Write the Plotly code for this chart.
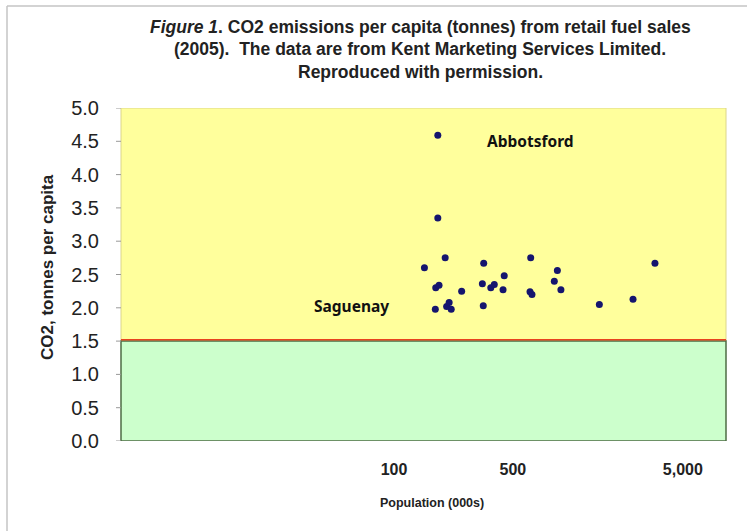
import math
import plotly.graph_objects as go

# Population (000s) and CO2 tonnes per capita
population = [151, 200, 176, 184, 175, 204, 211, 217, 250, 337, 331, 335,
              371, 389, 438, 445, 637, 631, 648, 914, 877, 959, 1614, 2547,
              3428, 181, 181]
co2_per_capita = [2.60, 2.75, 2.30, 2.34, 1.98, 2.02, 2.08, 1.98, 2.25, 2.67,
                  2.36, 2.03, 2.30, 2.35, 2.27, 2.48, 2.75, 2.24, 2.20, 2.56,
                  2.40, 2.27, 2.05, 2.13, 2.67, 4.59, 3.35]

x_tickvals = [100, 500, 5000]
x_ticktext = ["100", "500", "5,000"]
y_tickvals = [0, 0.5, 1.0, 1.5, 2.0, 2.5, 3.0, 3.5, 4.0, 4.5, 5.0]

threshold = 1.5
red_line_level = 1.52

labels = [("Abbotsford", 343, 4.51, "left"), ("Saguenay", 96, 2.03, "right")]

title_lines = [
    "<i>Figure 1</i>. CO2 emissions per capita (tonnes) from retail fuel sales",
    "(2005).  The data are from Kent Marketing Services Limited.",
    "Reproduced with permission.",
]

W, H = 747, 531
L, R, T, B = 121, 21, 108, 90
pw, ph = W - L - R, H - T - B

def px_x(p):
    return (p - L) / pw

def px_y(p):
    return (H - B - p) / ph

fig = go.Figure()
fig.add_trace(go.Scatter(
    x=population, y=co2_per_capita, mode="markers",
    marker=dict(size=7, color="#15156e"),
    showlegend=False, hoverinfo="x+y",
))

shapes = [
    dict(type="rect", xref="paper", yref="y", x0=0, x1=1, y0=threshold, y1=5,
         fillcolor="#ffff9c", line=dict(color="#dcd68a", width=1), layer="below"),
    dict(type="rect", xref="paper", yref="y", x0=0, x1=1, y0=0, y1=threshold,
         fillcolor="#ccffcc", line=dict(color="#4e6e44", width=1.5), layer="below"),
    dict(type="line", xref="paper", yref="y", x0=0, x1=1, y0=red_line_level, y1=red_line_level,
         line=dict(color="#e8431e", width=1.5), layer="below"),
    # outer frame (top and left edges)
    dict(type="line", xref="paper", yref="paper", x0=px_x(7), x1=px_x(W + 5),
         y0=px_y(6), y1=px_y(6), line=dict(color="#c4c4c4", width=1.5)),
    dict(type="line", xref="paper", yref="paper", x0=px_x(7), x1=px_x(7),
         y0=px_y(6), y1=px_y(H + 5), line=dict(color="#c4c4c4", width=1.5)),
]
# short visible tick marks at each y tick value
for v in y_tickvals:
    shapes.append(dict(type="line", xref="paper", yref="y", x0=px_x(116), x1=px_x(121),
                       y0=v, y1=v, line=dict(color="#999999", width=1)))

annotations = []
for line, ypix in zip(title_lines, [27.3, 49.3, 71.7]):
    annotations.append(dict(
        text="<b>" + line + "</b>", xref="paper", yref="paper",
        x=px_x(420), y=px_y(ypix), xanchor="center", yanchor="middle",
        showarrow=False, font=dict(family="Liberation Sans", size=17.5, color="#222222"),
    ))
for name, lx, ly, anchor in labels:
    annotations.append(dict(
        text="<b>" + name + "</b>", xref="x", yref="y", x=math.log10(lx), y=ly,
        xanchor=anchor, yanchor="middle", showarrow=False,
        font=dict(family="Noto Sans", size=15.5, color="#111111"),
    ))
annotations.append(dict(
    text="<b>Population (000s)</b>", xref="paper", yref="paper",
    x=px_x(431.5), y=px_y(503), xanchor="center", yanchor="middle", showarrow=False,
    font=dict(family="Liberation Sans", size=12.5, color="#222222"),
))
annotations.append(dict(
    text="<b>CO2, tonnes per capita</b>", xref="paper", yref="paper",
    x=px_x(47), y=px_y(267), xanchor="center", yanchor="middle", showarrow=False,
    textangle=-90, font=dict(family="Liberation Sans", size=17, color="#222222"),
))

fig.update_layout(
    width=W, height=H,
    margin=dict(l=L, r=R, t=T, b=B),
    paper_bgcolor="white", plot_bgcolor="white",
    shapes=shapes, annotations=annotations,
    xaxis=dict(
        type="log", range=[0.394, 3.953],
        tickvals=x_tickvals, ticktext=x_ticktext,
        showgrid=False, zeroline=False, showline=False, ticks="",
        tickfont=dict(family="Liberation Sans", size=16, color="#222222", weight="bold"),
        ticklabelstandoff=17,
    ),
    yaxis=dict(
        range=[0, 5], tickvals=y_tickvals, tickformat=".1f",
        showgrid=False, zeroline=False, showline=False,
        ticks="outside", ticklen=17, tickcolor="rgba(0,0,0,0)",
        tickfont=dict(family="Liberation Sans", size=20, color="#222222"),
    ),
)

fig.write_html("out.html")
